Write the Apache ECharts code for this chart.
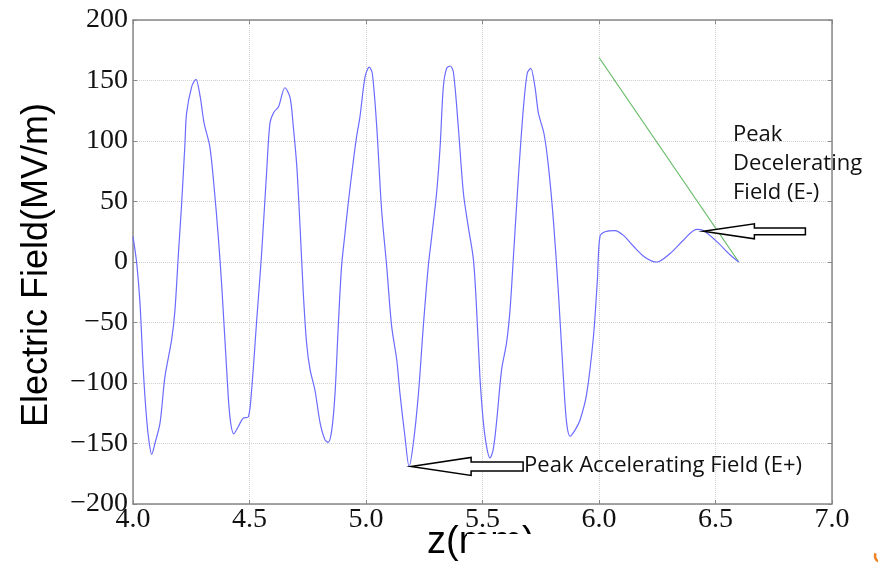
<!DOCTYPE html>
<html>
<head>
<meta charset="utf-8">
<script src="https://cdn.jsdelivr.net/npm/echarts@6/dist/echarts.min.js"></script>
<style>
  html, body { margin: 0; padding: 0; background: #fff; }
  #chart { width: 878px; height: 564px; }
</style>
</head>
<body>
<div id="chart"></div>
<script>
// z positions
var zVals = [
  4.000, 4.016, 4.030, 4.044, 4.059, 4.070, 4.080, 4.094, 4.116, 4.137,
  4.166, 4.180, 4.195, 4.209, 4.223, 4.230, 4.252, 4.270, 4.288, 4.305,
  4.330, 4.348, 4.366, 4.381, 4.402, 4.416, 4.433, 4.452, 4.473, 4.495,
  4.509, 4.531, 4.552, 4.574, 4.588, 4.605, 4.624, 4.652, 4.674, 4.688,
  4.703, 4.717, 4.731, 4.745, 4.760, 4.781, 4.803, 4.824, 4.838, 4.853,
  4.867, 4.881, 4.895, 4.910, 4.924, 4.946, 4.960, 4.974, 4.996, 5.014,
  5.027, 5.046, 5.067, 5.089, 5.110, 5.132, 5.146, 5.167, 5.185, 5.203,
  5.225, 5.246, 5.267, 5.282, 5.303, 5.318, 5.332, 5.346, 5.361, 5.375,
  5.396, 5.418, 5.439, 5.461, 5.475, 5.489, 5.503, 5.518, 5.532, 5.546,
  5.561, 5.582, 5.603, 5.618, 5.632, 5.654, 5.675, 5.692, 5.707, 5.725,
  5.740, 5.764, 5.783, 5.804, 5.826, 5.847, 5.861, 5.876, 5.897, 5.918,
  5.947, 5.976, 5.993, 6.004, 6.026, 6.069, 6.105, 6.148, 6.197, 6.248,
  6.305, 6.362, 6.419, 6.448, 6.505, 6.562, 6.600
];
// electric field (MV/m)
var eField = [
  21, -1, -34, -89, -131, -150, -159, -150, -133, -95,
  -64, -40, 7, 49, 98, 123, 145, 151, 137, 115,
  95, 62, 21, -20, -89, -128, -142, -136, -129, -128,
  -106, -48, 7, 76, 115, 124, 128, 144, 136, 112,
  79, 29, -26, -67, -89, -106, -133, -147, -149, -139,
  -109, -53, -4, 24, 49, 84, 104, 120, 153, 161,
  156, 112, 43, -4, -53, -81, -109, -144, -169, -150,
  -109, -53, -4, 21, 57, 95, 145, 160, 162, 157,
  112, 57, 29, 2, -40, -95, -131, -153, -162, -155,
  -131, -89, -67, -40, 2, 70, 126, 156, 160, 145,
  123, 106, 79, 35, -26, -95, -133, -144, -139, -131,
  -109, -62, -15, 21, 25, 26, 22, 13, 4, 0,
  7, 18, 27, 26, 17, 6, 0
];
// green straight line
var lineZ = [6.0, 6.6];
var lineE = [169, 0];

// annotation anchors
var accelPeak = [5.185, -169];
var decelPeak = [6.448, 27];
var accelText = 'Peak Accelerating Field (E+)';
var decelText = ['Peak', 'Decelerating', 'Field (E-)'];

var xTicks = { min: 4, max: 7, interval: 0.5 };
var yTicks = { min: -200, max: 200, interval: 50 };

var fieldData = zVals.map(function (z, i) { return [z, eField[i]]; });
var greenData = lineZ.map(function (z, i) { return [z, lineE[i]]; });

var chart = echarts.init(document.getElementById('chart'));

var serifLabel = { fontFamily: 'Liberation Serif', fontSize: 28, color: '#111' };
var frame = { lineStyle: { color: '#888', width: 1.5 } };
var grid = { type: 'dotted', color: '#d0d0d0', width: 1 };

var option = {
  animation: false,
  backgroundColor: '#fff',
  grid: { left: 133, right: 46, top: 20, bottom: 60 },
  xAxis: [{
    type: 'value', min: xTicks.min, max: xTicks.max, interval: xTicks.interval,
    axisLine: { onZero: false, lineStyle: frame.lineStyle },
    axisTick: { inside: true, length: 4, lineStyle: { color: '#888' } },
    splitLine: { show: true, lineStyle: grid },
    axisLabel: Object.assign({ margin: 2, formatter: function (v) { return v.toFixed(1); } }, serifLabel)
  }, {
    type: 'value', position: 'top', min: xTicks.min, max: xTicks.max, interval: xTicks.interval,
    axisLine: { onZero: false, lineStyle: frame.lineStyle },
    axisTick: { inside: true, length: 4, lineStyle: { color: '#888' } },
    axisLabel: { show: false }, splitLine: { show: false }
  }],
  yAxis: [{
    type: 'value', min: yTicks.min, max: yTicks.max, interval: yTicks.interval,
    axisLine: { show: true, onZero: false, lineStyle: frame.lineStyle },
    axisTick: { show: true, inside: true, length: 4, lineStyle: { color: '#888' } },
    splitLine: { show: true, lineStyle: grid },
    axisLabel: Object.assign({ margin: 5, formatter: function (v) {
      return v < 0 ? '\u2212' + (-v) : String(v);
    } }, serifLabel)
  }, {
    type: 'value', position: 'right', min: yTicks.min, max: yTicks.max, interval: yTicks.interval,
    axisLine: { show: true, onZero: false, lineStyle: frame.lineStyle },
    axisTick: { show: true, inside: true, length: 4, lineStyle: { color: '#888' } },
    axisLabel: { show: false }, splitLine: { show: false }
  }],
  series: [{
    type: 'line', data: fieldData, showSymbol: false, smooth: 0.3,
    lineStyle: { color: '#6b6bff', width: 1.2 }, z: 3
  }, {
    type: 'line', data: greenData, showSymbol: false,
    lineStyle: { color: '#66bb66', width: 1.2 }, z: 2
  }]
};
chart.setOption(option);

// arrows + annotation texts, anchored on data points
function blockArrow(tip, headLen, headHalf, totalLen, shaftHalf) {
  var x = tip[0], y = tip[1];
  return [
    [x, y],
    [x + headLen, y - headHalf],
    [x + headLen, y - shaftHalf],
    [x + totalLen, y - shaftHalf],
    [x + totalLen, y + shaftHalf],
    [x + headLen, y + shaftHalf],
    [x + headLen, y + headHalf]
  ];
}
var p1 = chart.convertToPixel({ gridIndex: 0 }, accelPeak);
var p2 = chart.convertToPixel({ gridIndex: 0 }, decelPeak);
var calloutFont = { fontFamily: 'Open Sans', fontSize: 22, fill: '#111' };

chart.setOption({
  graphic: [
    {
      type: 'polygon', z: 10,
      shape: { points: blockArrow([p1[0] + 2, p1[1]], 60, 9, 112, 4.5) },
      style: { fill: '#fff', stroke: '#000', lineWidth: 1.5 }
    },
    {
      type: 'polygon', z: 10,
      shape: { points: blockArrow([p2[0], p2[1] + 2], 51, 7.5, 102, 3.3) },
      style: { fill: '#fff', stroke: '#000', lineWidth: 1.5 }
    },
    {
      type: 'text', z: 11, x: p1[0] + 115, y: p1[1] - 1,
      style: Object.assign({ text: accelText, align: 'left', verticalAlign: 'middle' }, calloutFont)
    },
    {
      type: 'text', z: 11, x: 733, y: 120,
      style: Object.assign({ text: decelText.join('\n'), align: 'left', verticalAlign: 'top', lineHeight: 29 }, calloutFont)
    },
    {
      type: 'text', z: 11, x: 37, y: 265, rotation: Math.PI / 2,
      style: { text: 'Electric Field(MV/m)', align: 'center', verticalAlign: 'middle',
               fontFamily: 'Liberation Sans', fontSize: 36, fill: '#000' }
    },
    {
      type: 'text', z: 11, x: 427, y: 543,
      style: { text: 'z(mm)', align: 'left', verticalAlign: 'middle',
               fontFamily: 'Liberation Sans', fontSize: 38, fill: '#000' }
    },
    {
      // white patch hiding part of the x title, as in the source slide
      type: 'rect', z: 12,
      shape: { x: 467, y: 534, width: 90, height: 30 },
      style: { fill: '#fff' }
    },
    {
      type: 'arc', z: 12,
      shape: { cx: 881, cy: 556, r: 6, startAngle: 1.9, endAngle: 3.6 },
      style: { stroke: '#f08020', lineWidth: 2.5, fill: null }
    }
  ]
});
</script>
</body>
</html>
